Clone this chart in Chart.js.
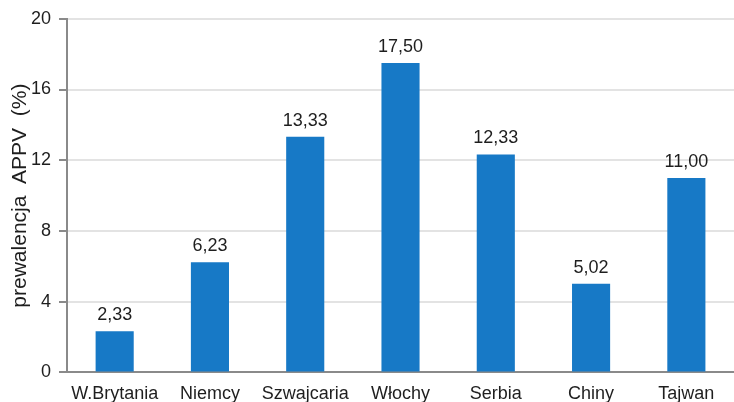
<!DOCTYPE html>
<html>
<head>
<meta charset="utf-8">
<script src="https://cdn.jsdelivr.net/npm/chart.js@4"></script>
<style>
  html, body { margin: 0; padding: 0; background: #fff; }
  #wrap { width: 734px; height: 402px; }
</style>
</head>
<body>
<div id="wrap"><canvas id="chart_1"></canvas></div>
<script>
const kraje = ["W.Brytania", "Niemcy", "Szwajcaria", "Włochy", "Serbia", "Chiny", "Tajwan"];
const prewalencja = [2.33, 6.23, 13.33, 17.5, 12.33, 5.02, 11.0];
const yTicks = [0, 4, 8, 12, 16, 20];

const FONT = "'Liberation Sans', Arial, sans-serif";

// etykiety z wartościami nad słupkami (przecinek dziesiętny)
const valueLabels = {
  id: "valueLabels",
  afterDatasetsDraw(chart) {
    const ctx = chart.ctx;
    const meta = chart.getDatasetMeta(0);
    ctx.save();
    ctx.font = "18px " + FONT;
    ctx.fillStyle = "#1e1e1e";
    ctx.textAlign = "center";
    ctx.textBaseline = "alphabetic";
    meta.data.forEach((bar, i) => {
      const txt = prewalencja[i].toFixed(2).replace(".", ",");
      ctx.fillText(txt, bar.x, bar.y - 11);
    });
    ctx.restore();
  },
};

const ct = document.getElementById("chart_1");

const config = {
  type: "bar",
  data: {
    labels: kraje,
    datasets: [
      {
        label: "prewalencja APPV (%)",
        data: prewalencja,
        backgroundColor: "#1779c6",
        borderWidth: 0,
        barPercentage: 0.4,
        categoryPercentage: 1.0,
      },
    ],
  },
  options: {
    responsive: true,
    maintainAspectRatio: false,
    animation: false,
    layout: { padding: { top: 18, right: 0, left: 6, bottom: -14 } },
    plugins: {
      legend: { display: false },
      tooltip: { enabled: false },
    },
    scales: {
      x: {
        grid: { display: false, drawTicks: false },
        border: { color: "#8a8a8a", width: 2 },
        ticks: {
          color: "#1e1e1e",
          font: { size: 18, family: FONT },
          maxRotation: 0,
          padding: 11,
        },
      },
      y: {
        min: 0,
        max: 20,
        afterBuildTicks(axis) {
          axis.ticks = yTicks.map((v) => ({ value: v }));
        },
        // Chart.js liczy padding etykiet podwójnie - zabieramy nadmiar
        afterFit(axis) {
          axis.width -= 8;
        },
        grid: {
          color: "#e3e3e3",
          lineWidth: 2,
          tickLength: 8,
          tickColor: "#8a8a8a",
        },
        border: { color: "#8a8a8a", width: 2 },
        ticks: {
          color: "#1e1e1e",
          font: { size: 18, family: FONT },
          padding: 8,
        },
        title: {
          display: true,
          text: "prewalencja  APPV  (%)",
          color: "#1e1e1e",
          font: { size: 21, family: FONT, lineHeight: 1 },
          padding: { top: 4, bottom: 0 },
        },
      },
    },
  },
  plugins: [valueLabels],
};

new Chart(ct, config);
</script>
</body>
</html>
